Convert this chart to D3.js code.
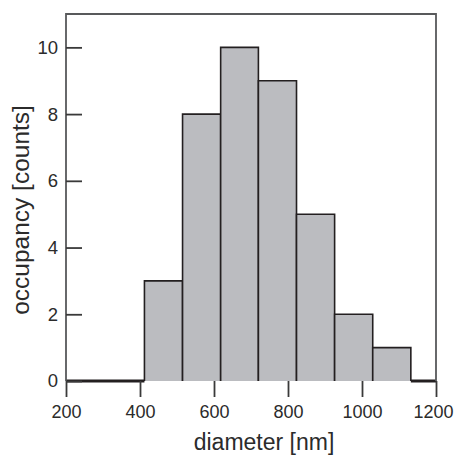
<!DOCTYPE html>
<html><head><meta charset="utf-8">
<script src="https://cdn.jsdelivr.net/npm/d3@7"></script>
<style>body{margin:0;background:#fff}svg{display:block}text{font-family:"Liberation Sans",Arial,sans-serif;fill:#2b2b2b}</style>
</head><body>
<svg id="c" width="455" height="456"></svg>
<script>
const binEdges = [200, 412, 515, 618, 720, 823, 926, 1029, 1132, 1200];
const counts = [0, 3, 8, 10, 9, 5, 2, 1, 0];
const xTicks = [200, 400, 600, 800, 1000, 1200];
const yTicks = [0, 2, 4, 6, 8, 10];
const xTitle = "diameter [nm]";
const yTitle = "occupancy [counts]";

const svg = d3.select("#c");
const L = 66, R = 436, T = 14, B = 381;
const x = d3.scaleLinear().domain([200, 1200]).range([L, R]);
const y = d3.scaleLinear().domain([0, 11]).range([B, T]);

const bins = counts.map((c, i) => ({x0: binEdges[i], x1: binEdges[i + 1], c}));

// bars
svg.append("g").selectAll("path").data(bins.filter(d => d.c > 0)).join("path")
  .attr("d", d => `M${x(d.x0)},${y(0)}V${y(d.c)}H${x(d.x1)}V${y(0)}`)
  .attr("fill", "#bbbcc0").attr("stroke", "#231f20").attr("stroke-width", 1.6);

// zero bins
svg.append("g").selectAll("line").data(bins.filter(d => d.c === 0)).join("line")
  .attr("x1", d => x(d.x0)).attr("x2", d => x(d.x1))
  .attr("y1", y(0)).attr("y2", y(0))
  .attr("stroke", "#231f20").attr("stroke-width", 3);

// frame
svg.append("path")
  .attr("d", `M${L},${B}V${T}H${R}V${B}`)
  .attr("fill", "none").attr("stroke", "#58595b").attr("stroke-width", 1.8);

// x axis
const xa = svg.append("g").attr("transform", `translate(0,${B})`)
  .call(d3.axisBottom(x).tickValues(xTicks).tickSize(16).tickPadding(8).tickFormat(d3.format("d")));
xa.select(".domain").remove();
xa.selectAll(".tick line").attr("stroke", "#3a3a3a").attr("stroke-width", 1.8);
xa.selectAll(".tick text").attr("font-size", 18).attr("fill", "#2b2b2b").attr("font-family", "Liberation Sans, Arial, sans-serif")
  .attr("dx", d => d === 1200 ? -3 : 0);

// y axis (inward ticks)
const ya = svg.append("g").attr("transform", `translate(${L},0)`)
  .call(d3.axisRight(y).tickValues(yTicks).tickSize(16).tickFormat(d3.format("d")));
ya.select(".domain").remove();
ya.selectAll(".tick line").attr("stroke", "#3a3a3a").attr("stroke-width", 1.8);
ya.selectAll(".tick text").attr("x", -8).attr("text-anchor", "end")
  .attr("font-size", 18.5).attr("fill", "#2b2b2b").attr("font-family", "Liberation Sans, Arial, sans-serif");

// titles
svg.append("text").attr("x", 264).attr("y", 450).attr("text-anchor", "middle")
  .attr("font-size", 23).text(xTitle);
svg.append("text").attr("transform", `translate(29,210) rotate(-90)`).attr("text-anchor", "middle")
  .attr("font-size", 24.5).text(yTitle);
</script>
</body></html>
